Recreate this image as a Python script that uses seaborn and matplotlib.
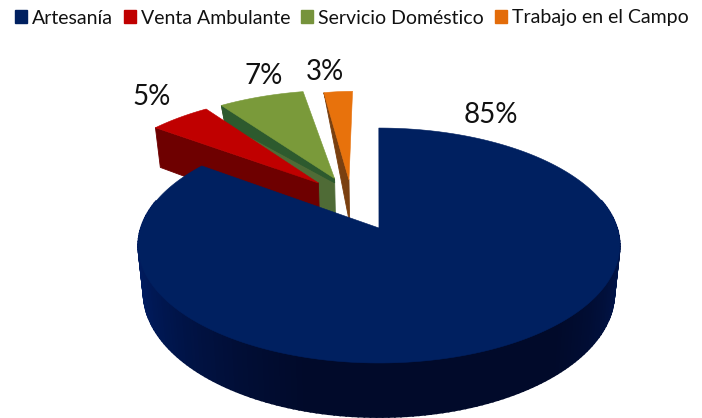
import numpy as np
import matplotlib
matplotlib.use("Agg")
import matplotlib.pyplot as plt
from matplotlib.colors import to_rgb
from matplotlib.patches import Patch, Polygon
import seaborn as sns

categories = ["Artesanía", "Venta Ambulante", "Servicio Doméstico", "Trabajo en el Campo"]
shares = [85, 5, 7, 3]
top_colors = ["#002060", "#c00000", "#7a9a3a", "#e8720c"]
legend_colors = ["#002060", "#c00000", "#76933c", "#e36c0a"]
cut_colors = ["#001a55", "#6e0000", "#4f6b36", "#7a4010"]

# Placement of the perspective view (style only, not data)
CX, R, A, B, C, DEPTH = 378.0, 238.0, -80.9, 228.0, 0.149, 46.0
SHIFT = [(0.004, 0.0), (-0.266, 0.416), (-0.195, 0.46), (-0.13, 0.446)]
NARROW = [1.0, 1.0, 1.0, 0.78]
LABEL_POS = [(491, 115), (152, 97), (264, 76), (325, 72)]

sns.set_theme(style="white")
plt.rcParams["font.family"] = ["Lato", "DejaVu Sans"]

fig, ax = plt.subplots(figsize=(7.02, 4.18), dpi=100)
ax.set_position([0, 0, 1, 1])
wedges, _ = ax.pie(shares, startangle=90, counterclock=False, radius=1.0)
geometry = [(w.theta1, w.theta2) for w in wedges]
for w in wedges:
    w.remove()
ax.set_aspect("auto")
ax.set_xlim(0, 702)
ax.set_ylim(418, 0)
ax.axis("off")


def project(u, v, depth=0.0):
    u, v = np.asarray(u, float), np.asarray(v, float)
    w = 1 + C * v
    taper = np.clip((1.5 - v) / 0.5, 0, 1)
    x = CX + R * u / w * (1 - 0.022 * depth)
    y = (A * v + B) / w + depth * DEPTH * taper / w
    return x, y


def quad(p, q, color, zorder, frac_p=1.0, frac_q=1.0, lw=0.6):
    xa, ya = project(*p)
    xb, yb = project(*q)
    xc, yc = project(*q, depth=frac_q)
    xd, yd = project(*p, depth=frac_p)
    ax.add_patch(Polygon([(xa, ya), (xb, yb), (xc, yc), (xd, yd)], closed=True,
                         facecolor=color, edgecolor=color, linewidth=lw, zorder=zorder))


light, dark = np.array(to_rgb("#001c60")), np.array(to_rgb("#010a2a"))
draw_order = [3, 2, 1, 0]
for rank, i in enumerate(draw_order):
    t1, t2 = geometry[i]
    du, dv = SHIFT[i]
    angles = np.radians(np.linspace(t1, t2, 240))
    us, vs = np.cos(angles) * NARROW[i] + du, np.sin(angles) + dv
    apex = (du, dv)
    base = 10 * (rank + 1)

    # cut faces
    last = (us[-1], vs[-1])
    if i != 0:
        quad(apex, last, cut_colors[i], base)
    if i == 2:
        quad(apex, last, "#2d5a2e", base + 1, frac_p=0.1, frac_q=1.0)

    # curved rim, back to front
    order = np.argsort(-vs[:-1])
    for k in order:
        mid = 0.5 * (angles[k] + angles[k + 1])
        nx, ny = np.cos(mid), np.sin(mid)
        if ny > 0.25:
            continue
        if i == 0:
            s = np.clip(-ny * 1.1 + 0.25 * nx, 0, 1) ** 1.3
            col = light + (dark - light) * s
        else:
            col = cut_colors[i]
        quad((us[k], vs[k]), (us[k + 1], vs[k + 1]), col, base + 2, lw=1.3)

    # top surface
    xs, ys = project(np.r_[du, us], np.r_[dv, vs])
    ax.add_patch(Polygon(np.column_stack([xs, ys]), closed=True,
                         facecolor=top_colors[i], edgecolor=top_colors[i],
                         linewidth=0.4, zorder=base + 3))

for share, (lx, ly) in zip(shares, LABEL_POS):
    ax.text(lx, ly, f"{share}%", ha="center", va="center", fontsize=20,
            color="#111111", zorder=100)

handles = [Patch(facecolor=c, edgecolor=c) for c in legend_colors]
fig.legend(handles, categories, loc="center", bbox_to_anchor=(352 / 702, 1 - 18 / 418),
           ncol=4, frameon=False, fontsize=14.0, handlelength=0.6, handleheight=0.6,
           handletextpad=0.28, columnspacing=0.55, borderpad=0, labelcolor="#111111")

fig.savefig("out.png", dpi=100)
